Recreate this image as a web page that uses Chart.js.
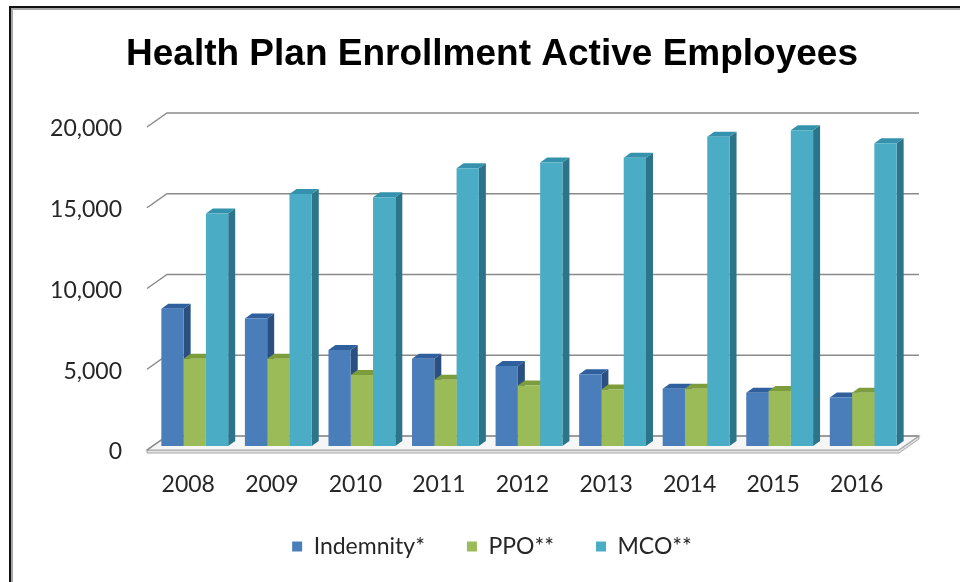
<!DOCTYPE html>
<html><head><meta charset="utf-8">
<script src="https://cdn.jsdelivr.net/npm/chart.js@4.4.1/dist/chart.umd.min.js"></script>
<style>
html,body{margin:0;padding:0;background:#fff;overflow:hidden;}
#wrap{position:relative;width:960px;height:582px;overflow:hidden;}
canvas{position:absolute;left:0;top:0;}
.f1{position:absolute;left:9px;top:6px;width:980px;height:600px;border-left:2px solid #111;border-top:2px solid #111;pointer-events:none;}
.f2{position:absolute;left:11px;top:8px;width:980px;height:600px;border-left:2px solid #a8a8a8;border-top:2px solid #a8a8a8;pointer-events:none;}
</style></head>
<body><div id="wrap"><canvas id="c" width="960" height="582"></canvas><div class="f1"></div><div class="f2"></div></div>
<script>
const years = ['2008','2009','2010','2011','2012','2013','2014','2015','2016'];
const indemnity = [8500, 7900, 5950, 5400, 4950, 4450, 3550, 3300, 3000];
const ppo = [5400, 5400, 4400, 4100, 3750, 3500, 3550, 3400, 3300];
const mco = [14400, 15600, 15400, 17200, 17550, 17850, 19150, 19550, 18750];
const yTicks = [0, 5000, 10000, 15000, 20000];
const seriesNames = ['Indemnity*', 'PPO**', 'MCO**'];

const frontColors = ['#4a7ebb', '#9bbb59', '#4bacc6'];
const topColors = ['#2f5f9c', '#7d9c3c', '#3592ad'];
const sideColors = ['#2a4f80', '#6a8732', '#2b7489'];

const DX = 7, DY = 5;
const FRONT = {dx: -6, dy: 4}, BACK = {dx: 14, dy: -10};

function poly(ctx, pts, fill, stroke, lw) {
  ctx.beginPath();
  ctx.moveTo(pts[0][0], pts[0][1]);
  for (let i = 1; i < pts.length; i++) ctx.lineTo(pts[i][0], pts[i][1]);
  ctx.closePath();
  if (fill) { ctx.fillStyle = fill; ctx.fill(); }
  if (stroke) { ctx.strokeStyle = stroke; ctx.lineWidth = lw || 1; ctx.stroke(); }
}

const threeD = {
  id: 'threeD',
  beforeDatasetsDraw(chart) {
    const ctx = chart.ctx, a = chart.chartArea, ys = chart.scales.y;
    ctx.save();
    const y0 = ys.getPixelForValue(0);
    const fl = a.left + FRONT.dx, fr = a.right + FRONT.dx, fy = y0 + FRONT.dy;
    const bl = a.left + BACK.dx, br = a.right + BACK.dx, by = y0 + BACK.dy;
    poly(ctx, [[fl, fy], [fr, fy], [br, by], [br, by + 3], [fr, fy + 3], [fl, fy + 3]], '#e4e4e4', '#a6a6a6', 1);
    poly(ctx, [[fl, fy], [fr, fy], [br, by], [bl, by]], '#f6f6f6', '#a6a6a6', 1.2);
    ctx.strokeStyle = '#8a8a8a';
    ctx.lineWidth = 1.5;
    yTicks.forEach(v => {
      const p = ys.getPixelForValue(v);
      ctx.beginPath();
      ctx.moveTo(fl, p + FRONT.dy);
      ctx.lineTo(bl, p + BACK.dy);
      ctx.lineTo(br, p + BACK.dy);
      ctx.stroke();
    });
    const n = chart.data.labels.length;
    for (let i = 0; i < n; i++) {
      chart.data.datasets.forEach((ds, d) => {
        const el = chart.getDatasetMeta(d).data[i];
        if (!el) return;
        const l = el.x - el.width / 2, r = el.x + el.width / 2, t = el.y, b = el.base;
        poly(ctx, [[r, t], [r + DX, t - DY], [r + DX, b - DY], [r, b]], sideColors[d]);
        poly(ctx, [[l, t], [r, t], [r + DX, t - DY], [l + DX, t - DY]], topColors[d]);
      });
    }
    ctx.restore();
  }
};

const tickFont = {family: 'Lato', size: 23};

new Chart(document.getElementById('c'), {
  type: 'bar',
  data: {
    labels: years,
    datasets: [
      {label: seriesNames[0], data: indemnity, backgroundColor: frontColors[0]},
      {label: seriesNames[1], data: ppo, backgroundColor: frontColors[1]},
      {label: seriesNames[2], data: mco, backgroundColor: frontColors[2]}
    ]
  },
  options: {
    responsive: false,
    animation: false,
    layout: {padding: {left: 24, right: 0, top: 0, bottom: 14}},
    datasets: {bar: {categoryPercentage: 0.8, barPercentage: 1.0, borderWidth: 0}},
    plugins: {
      title: {
        display: true,
        text: 'Health Plan Enrollment Active Employees',
        color: '#000',
        font: {family: 'Liberation Sans', weight: 'bold', size: 37, lineHeight: 1.2},
        padding: {top: 33, bottom: 45.6}
      },
      legend: {
        position: 'bottom',
        labels: {
          color: '#262626',
          font: {family: 'Lato', size: 23},
          boxWidth: 10,
          boxHeight: 10,
          padding: 42
        }
      },
      tooltip: {enabled: false}
    },
    scales: {
      x: {
        grid: {display: false, drawTicks: false},
        border: {display: false},
        ticks: {color: '#262626', font: tickFont, padding: 25, labelOffset: -6.5},
        afterFit(s) { s.height = 47; }
      },
      y: {
        min: 0, max: 20000,
        grid: {display: false, drawTicks: false},
        border: {display: false},
        ticks: {
          stepSize: 5000, color: '#262626', font: tickFont, padding: 31, labelOffset: 6,
          callback: v => v.toLocaleString('en-US')
        },
        afterFit(s) { s.width = 129; }
      },
      yR: {
        position: 'right', type: 'linear', display: true,
        grid: {display: false, drawTicks: false},
        border: {display: false},
        ticks: {display: false},
        afterFit(s) { s.width = 55; }
      }
    }
  },
  plugins: [threeD]
});
</script>
</body></html>
